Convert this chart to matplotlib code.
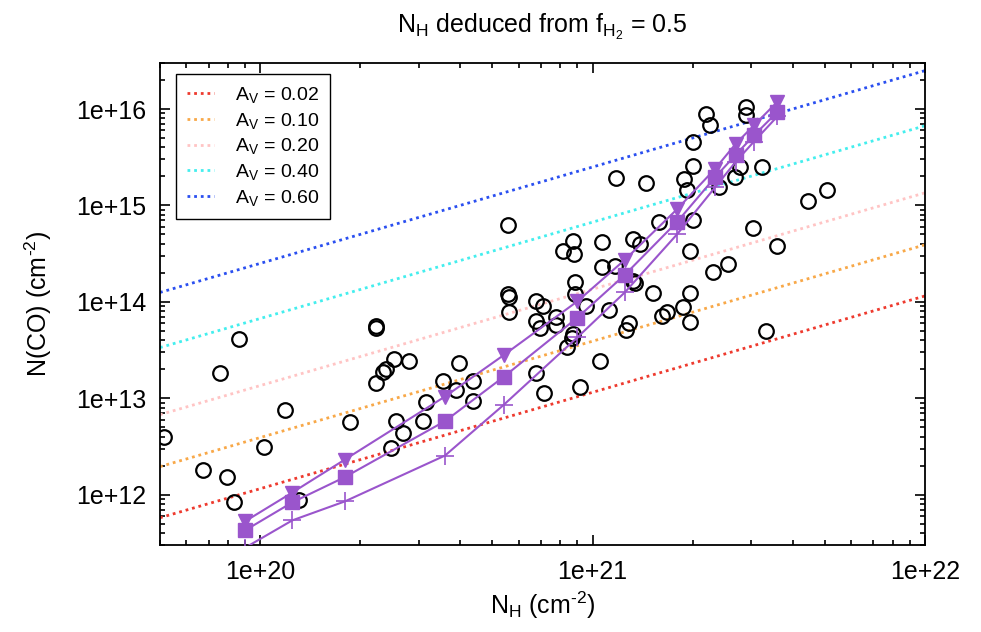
import matplotlib
matplotlib.use("Agg")
import matplotlib.pyplot as plt
import numpy as np
from matplotlib.ticker import LogLocator, FuncFormatter, NullFormatter

plt.rcParams['font.family'] = ['Liberation Sans', 'DejaVu Sans']
plt.rcParams['mathtext.default'] = 'regular'

# observed sample (open circles)
obs_nh = [5.14e19, 6.75e19, 7.94e19, 8.35e19, 7.56e19, 8.64e19, 1.03e20, 1.19e20, 1.31e20, 1.86e20,
          2.23e20, 2.23e20, 2.23e20, 2.35e20, 2.40e20, 2.52e20, 2.81e20, 2.48e20, 2.56e20, 2.70e20,
          3.10e20, 3.16e20, 3.54e20, 3.89e20, 3.96e20, 4.36e20, 4.36e20, 5.57e20, 5.58e20, 5.60e20,
          5.60e20, 6.77e20, 7.12e20, 6.77e20, 6.94e20, 7.75e20, 7.77e20, 6.77e20, 7.17e20, 9.14e20,
          1.05e21, 8.14e20, 8.77e20, 8.72e20, 8.83e20, 8.83e20, 8.72e20, 8.68e20, 8.36e20, 9.59e20,
          1.07e21, 1.07e21, 1.17e21, 1.12e21, 1.18e21, 1.45e21, 1.32e21, 1.34e21, 1.32e21, 1.39e21,
          1.52e21, 1.29e21, 1.26e21, 1.62e21, 1.67e21, 1.87e21, 1.96e21, 1.96e21, 1.59e21, 1.88e21,
          1.92e21, 2.00e21, 2.01e21, 2.01e21, 1.96e21, 2.20e21, 2.25e21, 2.90e21, 2.90e21, 2.77e21,
          2.68e21, 2.40e21, 3.23e21, 4.45e21, 5.08e21, 3.04e21, 3.60e21, 2.30e21, 2.55e21, 3.33e21]
obs_nco = [3.97e12, 1.82e12, 1.51e12, 8.38e11, 1.84e13, 4.09e13, 3.13e12, 7.46e12, 8.71e11, 5.69e12,
           5.65e13, 5.39e13, 1.44e13, 1.87e13, 2.03e13, 2.53e13, 2.43e13, 3.05e12, 5.78e12, 4.38e12,
           5.78e12, 9.04e12, 1.51e13, 1.21e13, 2.30e13, 1.51e13, 9.27e12, 6.28e14, 1.20e14, 1.11e14,
           7.87e13, 1.02e14, 9.08e13, 6.34e13, 5.29e13, 6.97e13, 5.73e13, 1.84e13, 1.12e13, 1.32e13,
           2.42e13, 3.37e14, 3.13e14, 4.31e14, 1.61e14, 1.21e14, 4.67e13, 4.26e13, 3.38e13, 9.02e13,
           4.15e14, 2.31e14, 2.33e14, 8.16e13, 1.92e15, 1.72e15, 1.63e14, 1.57e14, 4.49e14, 3.98e14,
           1.22e14, 6.00e13, 5.14e13, 7.15e13, 7.82e13, 8.75e13, 1.22e14, 6.15e13, 6.80e14, 1.86e15,
           1.43e15, 4.59e15, 2.56e15, 7.05e14, 3.37e14, 8.98e15, 6.78e15, 1.04e16, 8.70e15, 2.50e15,
           1.95e15, 1.55e15, 2.52e15, 1.10e15, 1.43e15, 5.82e14, 3.75e14, 2.04e14, 2.44e14, 4.98e13]

# model tracks
model_nh = [0.9e20, 1.25e20, 1.8e20, 3.6e20, 5.4e20, 9.0e20, 1.25e21, 1.8e21, 2.34e21, 2.7e21, 3.06e21, 3.6e21]
model_tri = [5.26e11, 1.05e12, 2.31e12, 1.04e13, 2.79e13, 1.01e14, 2.72e14, 9.2e14, 2.41e15, 4.38e15, 6.78e15, 1.19e16]
model_sq = [4.24e11, 8.3e11, 1.52e12, 5.78e12, 1.66e13, 6.84e13, 1.9e14, 6.8e14, 1.97e15, 3.37e15, 5.33e15, 9.35e15]
model_plus = [2.8e11, 5.4e11, 8.5e11, 2.54e12, 8.5e12, 4.27e13, 1.25e14, 5.06e14, 1.55e15, 2.85e15, 4.6e15, 8.4e15]

# N(CO)/N_H ratio for each A_V line
av_labels = ['0.02', '0.10', '0.20', '0.40', '0.60']
av_ratio = [1.15e-8, 3.9e-8, 1.35e-7, 6.7e-7, 2.5e-6]
av_colors = ['#ee3a2e', '#f8a848', '#ffc4c4', '#44eeee', '#2a4ff0']

xlim = (5e19, 1e22)
ylim = (3e11, 3e16)

fig = plt.figure(figsize=(9.81, 6.32), dpi=100)
ax = fig.add_axes([0.1631, 0.1377, 0.7798, 0.7626])

xx = np.array(xlim)
for lab, r, c in zip(av_labels, av_ratio, av_colors):
    ax.plot(xx, r * xx, linestyle=(0, (1, 1.4)), lw=2.0, color=c,
            label='A$_V$ = ' + lab, zorder=2)

ax.plot(obs_nh, obs_nco, 'o', mfc='none', mec='black', ms=10.5, mew=1.6, zorder=3)

purple = '#9a55cc'
ax.plot(model_nh, model_tri, '-', color=purple, lw=1.5, marker='v', ms=10.5, zorder=4)
ax.plot(model_nh, model_sq, '-', color=purple, lw=1.5, marker='s', ms=10, zorder=4)
ax.plot(model_nh, model_plus, '-', color=purple, lw=1.5, marker='+', ms=13, mew=1.2, zorder=4)

ax.set_xscale('log')
ax.set_yscale('log')
ax.set_xlim(*xlim)
ax.set_ylim(*ylim)

fmt = FuncFormatter(lambda v, p: f"1e+{int(round(np.log10(v)))}")
ax.xaxis.set_major_locator(LogLocator(base=10, numticks=10))
ax.yaxis.set_major_locator(LogLocator(base=10, numticks=10))
ax.xaxis.set_minor_locator(LogLocator(base=10, subs=np.arange(2, 10), numticks=20))
ax.yaxis.set_minor_locator(LogLocator(base=10, subs=np.arange(2, 10), numticks=20))
ax.xaxis.set_major_formatter(fmt)
ax.yaxis.set_major_formatter(fmt)
ax.xaxis.set_minor_formatter(NullFormatter())
ax.yaxis.set_minor_formatter(NullFormatter())
ax.tick_params(which='both', direction='in', top=True, right=True, labelsize=18, width=1.2)
ax.tick_params(which='major', length=7)
ax.tick_params(axis='x', which='major', pad=11)
ax.tick_params(axis='y', which='major', pad=10)
ax.tick_params(which='minor', length=3.5)
for s in ax.spines.values():
    s.set_linewidth(1.3)

ax.set_xlabel('N$_H$ (cm$^{\u2010 2}$)', fontsize=18, labelpad=4)
ax.set_ylabel('N(CO) (cm$^{\u2010 2}$)', fontsize=18, labelpad=16)
ax.set_title('N$_H$ deduced from f$_{H_2}$ = 0.5', fontsize=18, pad=22)

leg = ax.legend(loc='upper left', bbox_to_anchor=(0.021, 0.977), borderaxespad=0,
                fontsize=14, handlelength=1.4, handletextpad=1.1, labelspacing=0.3,
                fancybox=False, framealpha=1, edgecolor='black', borderpad=0.55)
leg.get_frame().set_linewidth(1.0)

fig.savefig('out.png', dpi=100)
